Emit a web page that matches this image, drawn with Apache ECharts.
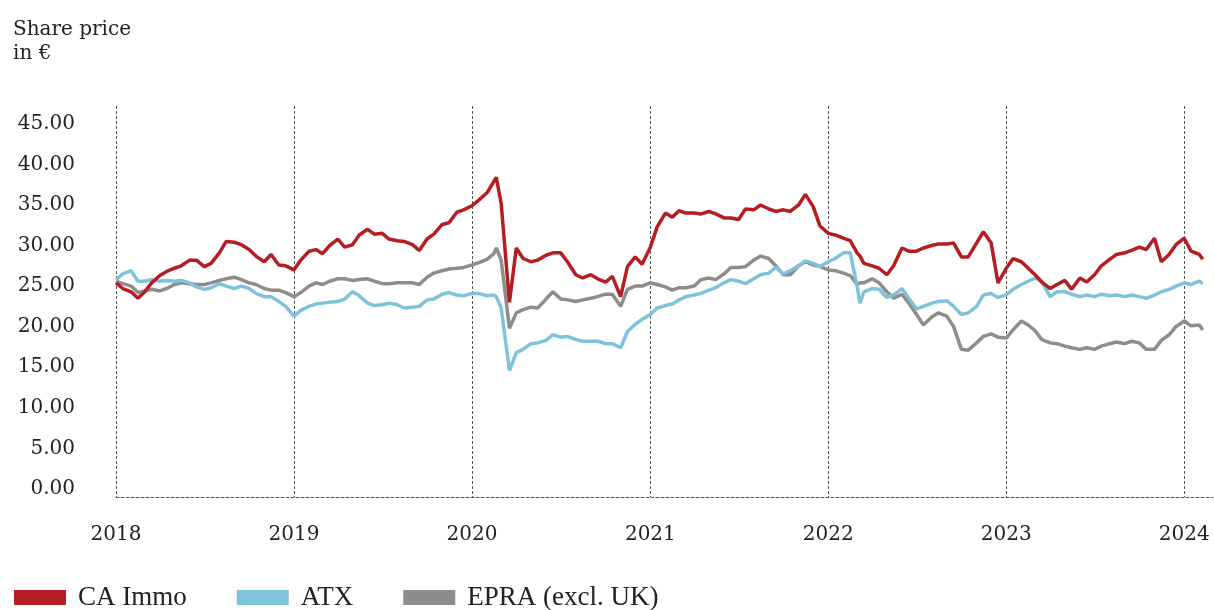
<!DOCTYPE html>
<html>
<head>
<meta charset="utf-8">
<script src="https://cdn.jsdelivr.net/npm/echarts@6/dist/echarts.min.js"></script>
<style>
html, body { margin: 0; padding: 0; background: #fff; }
#chart { width: 1214px; height: 610px; }
</style>
</head>
<body>
<div id="chart"></div>
<script>
// dates (roughly half-monthly, plus a few extra points at sharp moves)
const dates = [
  '2018-01-01','2018-01-15','2018-02-01','2018-02-15','2018-03-01','2018-03-15','2018-04-01','2018-04-15','2018-05-01','2018-05-15','2018-06-01','2018-06-15',
  '2018-07-01','2018-07-15','2018-08-01','2018-08-15','2018-09-01','2018-09-15','2018-10-01','2018-10-15','2018-11-01','2018-11-15','2018-12-01','2018-12-15',
  '2019-01-01','2019-01-15','2019-02-01','2019-02-15','2019-03-01','2019-03-15','2019-04-01','2019-04-15','2019-05-01','2019-05-15','2019-06-01','2019-06-15',
  '2019-07-01','2019-07-15','2019-08-01','2019-08-15','2019-09-01','2019-09-15','2019-10-01','2019-10-15','2019-11-01','2019-11-15','2019-12-01','2019-12-15',
  '2020-01-01','2020-01-15','2020-02-01','2020-02-15','2020-02-20','2020-03-01','2020-03-18','2020-04-01','2020-04-15','2020-05-01','2020-05-15','2020-06-01','2020-06-15',
  '2020-07-01','2020-07-15','2020-08-01','2020-08-15','2020-09-01','2020-09-15','2020-10-01','2020-10-15','2020-11-01','2020-11-15','2020-12-01','2020-12-15',
  '2021-01-01','2021-01-15','2021-02-01','2021-02-15','2021-03-01','2021-03-15','2021-04-01','2021-04-15','2021-05-01','2021-05-15','2021-06-01','2021-06-15',
  '2021-07-01','2021-07-15','2021-08-01','2021-08-15','2021-09-01','2021-09-15','2021-10-01','2021-10-15','2021-11-01','2021-11-15','2021-12-01','2021-12-15',
  '2022-01-01','2022-01-15','2022-02-01','2022-02-15','2022-03-01','2022-03-07','2022-03-15','2022-04-01','2022-04-15','2022-05-01','2022-05-15','2022-06-01','2022-06-15',
  '2022-07-01','2022-07-15','2022-08-01','2022-08-15','2022-09-01','2022-09-15','2022-10-01','2022-10-15','2022-11-01','2022-11-15','2022-12-01','2022-12-15',
  '2023-01-01','2023-01-15','2023-02-01','2023-02-15','2023-03-01','2023-03-15','2023-04-01','2023-04-15','2023-05-01','2023-05-15','2023-06-01','2023-06-15',
  '2023-07-01','2023-07-15','2023-08-01','2023-08-15','2023-09-01','2023-09-15','2023-10-01','2023-10-15','2023-11-01','2023-11-15','2023-12-01','2023-12-15',
  '2024-01-01','2024-01-15','2024-02-01','2024-02-08'
]

// CA Immo share price in EUR
const caImmo = [
  25.4, 24.7, 24.3, 23.5, 24.3, 25.4, 26.3, 26.8, 27.2, 27.5, 28.2, 28.2, 27.4, 27.8, 29.1, 30.5, 30.4, 30.1, 29.5, 28.7, 28.0, 28.9, 27.6, 27.5,
  27.0, 28.2, 29.3, 29.5, 29.0, 30.0, 30.8, 29.8, 30.1, 31.3, 32.0, 31.4, 31.5, 30.8, 30.6, 30.5, 30.1, 29.4, 30.8, 31.4, 32.6, 32.8, 34.1, 34.4,
  34.9, 35.6, 36.5, 37.9, 38.4, 35.2, 23.0, 29.7, 28.4, 28.0, 28.2, 28.8, 29.1, 29.1, 28.0, 26.4, 26.0, 26.4, 25.9, 25.5, 26.2, 23.7, 27.4, 28.6, 27.7,
  29.8, 32.3, 34.0, 33.5, 34.3, 34.0, 34.0, 33.9, 34.2, 33.9, 33.4, 33.4, 33.2, 34.5, 34.4, 35.0, 34.5, 34.2, 34.4, 34.2, 35.0, 36.3, 34.8, 32.4,
  31.5, 31.3, 30.9, 30.6, 29.1, 28.7, 27.8, 27.5, 27.2, 26.4, 27.5, 29.7, 29.3, 29.3, 29.7, 30.0, 30.2, 30.2, 30.3, 28.6, 28.6, 30.3, 31.7, 30.3, 25.4,
  27.2, 28.4, 28.0, 27.2, 26.4, 25.5, 24.7, 25.2, 25.7, 24.6, 26.0, 25.5, 26.4, 27.5, 28.3, 28.9, 29.1, 29.4, 29.8, 29.5, 30.9, 28.0, 28.9, 30.1,
  30.9, 29.3, 28.9, 28.3
]

// ATX (rebased)
const atx = [
  25.8, 26.5, 26.9, 25.6, 25.6, 25.8, 25.6, 25.7, 25.6, 25.7, 25.4, 24.9, 24.6, 24.8, 25.3, 25.0, 24.7, 25.0, 24.7, 24.1, 23.7, 23.7, 23.1, 22.5,
  21.3, 22.0, 22.5, 22.8, 22.9, 23.0, 23.1, 23.4, 24.3, 23.8, 22.9, 22.6, 22.7, 22.9, 22.7, 22.3, 22.4, 22.5, 23.3, 23.4, 24.0, 24.2, 23.9, 23.8,
  24.1, 24.1, 23.8, 23.9, 23.7, 22.3, 14.6, 16.8, 17.2, 17.9, 18.0, 18.3, 19.0, 18.7, 18.8, 18.4, 18.2, 18.2, 18.2, 17.9, 17.9, 17.4, 19.4, 20.3, 20.9,
  21.5, 22.3, 22.6, 22.8, 23.3, 23.7, 23.9, 24.1, 24.5, 24.8, 25.4, 25.8, 25.6, 25.3, 25.9, 26.4, 26.6, 27.3, 26.5, 26.9, 27.5, 28.1, 27.8, 27.4,
  28.0, 28.4, 29.1, 29.1, 25.0, 22.9, 24.3, 24.7, 24.6, 23.6, 23.9, 24.7, 23.5, 22.2, 22.5, 22.9, 23.1, 23.2, 22.5, 21.5, 21.7, 22.5, 23.9, 24.1, 23.6,
  23.9, 24.6, 25.2, 25.6, 26.0, 25.5, 23.7, 24.3, 24.3, 24.0, 23.7, 23.9, 23.7, 24.0, 23.8, 23.9, 23.7, 23.9, 23.7, 23.5, 23.9, 24.3, 24.6, 25.0,
  25.4, 25.2, 25.6, 25.3
]

// EPRA excl. UK (rebased)
const epra = [
  25.6, 25.3, 25.0, 24.2, 24.4, 24.6, 24.4, 24.7, 25.2, 25.4, 25.3, 25.2, 25.2, 25.4, 25.7, 25.9, 26.1, 25.8, 25.4, 25.2, 24.7, 24.5, 24.5, 24.2,
  23.7, 24.2, 25.0, 25.4, 25.2, 25.6, 25.9, 25.9, 25.7, 25.8, 25.9, 25.6, 25.3, 25.3, 25.4, 25.4, 25.4, 25.2, 26.1, 26.6, 26.9, 27.1, 27.2, 27.3,
  27.6, 27.9, 28.3, 29.0, 29.7, 28.2, 19.8, 21.7, 22.1, 22.4, 22.3, 23.4, 24.3, 23.4, 23.3, 23.1, 23.3, 23.5, 23.7, 24.0, 24.0, 22.5, 24.6, 25.0, 25.0,
  25.4, 25.2, 24.9, 24.5, 24.8, 24.8, 25.0, 25.8, 26.0, 25.8, 26.5, 27.3, 27.3, 27.4, 28.2, 28.7, 28.4, 27.5, 26.4, 26.4, 27.5, 28.0, 27.6, 27.4,
  27.0, 26.9, 26.6, 26.3, 25.2, 25.4, 25.4, 25.9, 25.4, 24.3, 23.5, 24.0, 22.9, 21.5, 20.2, 21.2, 21.7, 21.3, 20.0, 17.2, 17.1, 18.0, 18.8, 19.1, 18.7,
  18.6, 19.6, 20.7, 20.2, 19.5, 18.4, 18.0, 17.9, 17.6, 17.4, 17.2, 17.4, 17.2, 17.6, 17.9, 18.1, 17.9, 18.2, 18.0, 17.2, 17.2, 18.3, 19.0, 20.0,
  20.7, 20.1, 20.2, 19.6
]

const yTicks = [0, 5, 10, 15, 20, 25, 30, 35, 40, 45]

const serif = 'DejaVu Serif'
const myChart = echarts.init(document.getElementById('chart'))

const mk = (name, vals, color) => ({
  name: name,
  type: 'line',
  showSymbol: false,
  symbol: 'none',
  lineStyle: { width: 3.5, color: color },
  itemStyle: { color: color },
  data: dates.map((d, i) => [d, vals[i]])
})

const option = {
  animation: false,
  title: {
    text: 'Share price\nin €',
    left: 8,
    top: 13,
    textStyle: { fontFamily: serif, fontSize: 20, fontWeight: 'normal', color: '#222', lineHeight: 24 }
  },
  legend: {
    left: 9,
    top: 579,
    itemWidth: 52,
    itemHeight: 15,
    itemGap: 50,
    icon: 'rect',
    data: ['CA Immo', 'ATX', 'EPRA (excl. UK)'],
    textStyle: { fontFamily: 'Liberation Serif', fontSize: 27, color: '#222', padding: [0, 0, 0, 7] }
  },
  grid: { left: 116, right: 1, top: 106, bottom: 113, containLabel: false },
  xAxis: {
    type: 'time',
    min: '2018-01-01',
    max: '2024-02-29',
    splitNumber: 6,
    axisLine: { show: true, onZero: false, lineStyle: { color: '#555', type: [3, 2], width: 1 } },
    axisTick: { show: false },
    axisLabel: {
      margin: 28,
      fontFamily: serif,
      fontSize: 20,
      color: '#222',
      formatter: (v) => String(new Date(v).getFullYear())
    },
    splitLine: { show: true, showMaxLine: false, lineStyle: { color: '#555', type: [3, 2], width: 1 } }
  },
  yAxis: {
    type: 'value',
    min: -1,
    max: 47.2,
    axisLine: { show: false },
    axisTick: { show: false },
    splitLine: { show: false },
    axisLabel: {
      customValues: yTicks,
      margin: 41,
      fontFamily: serif,
      fontSize: 20,
      color: '#222',
      formatter: (v) => v.toFixed(2)
    }
  },
  series: [
    mk('EPRA (excl. UK)', epra, '#8e8d8b'),
    mk('ATX', atx, '#7fc3db'),
    mk('CA Immo', caImmo, '#b41e23')
  ]
}
myChart.setOption(option)
</script>
</body>
</html>
